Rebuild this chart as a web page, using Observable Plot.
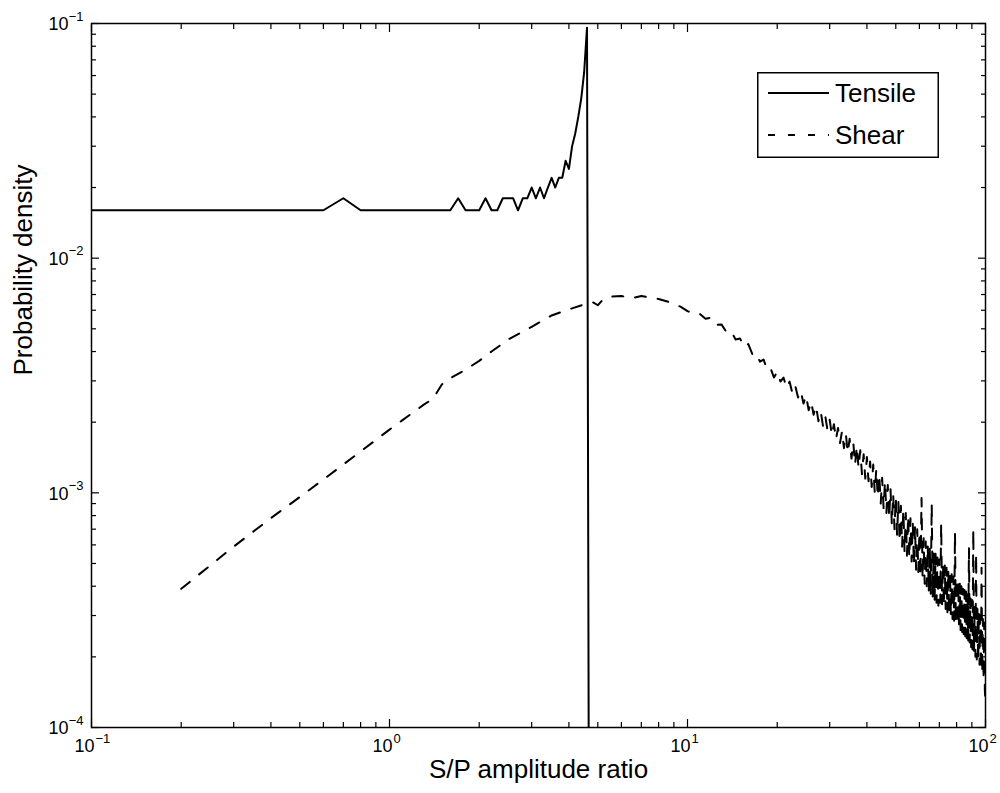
<!DOCTYPE html>
<html><head><meta charset="utf-8">
<script src="https://cdn.jsdelivr.net/npm/d3@7"></script>
<script src="https://cdn.jsdelivr.net/npm/@observablehq/plot@0.6"></script>
<style>
body{margin:0;background:#fff;font-family:"Liberation Sans",Arial,sans-serif;}
#wrap{position:relative;width:1000px;height:793px;}
#legend{position:absolute;left:757px;top:72px;}
</style></head><body><div id="wrap"></div>
<script>
// Tensile series
const tensileX = [0.1,0.2,0.3,0.4,0.5,0.6,0.7,0.8,0.9,1.0,1.1,1.2,1.3,1.4,1.5,1.6,1.7,1.8,1.9,2.0,2.1,2.2,2.3,2.4,2.5,2.6,2.7,2.8,2.9,3.0,3.1,3.2,3.3,3.4,3.5,3.6,3.7,3.8,3.9,4.0,4.1,4.2,4.3,4.4,4.5,4.6,4.7];
const tensileY = [0.016,0.016,0.016,0.016,0.016,0.016,0.018,0.016,0.016,0.016,0.016,0.016,0.016,0.016,0.016,0.016,0.018,0.016,0.016,0.016,0.018,0.016,0.016,0.018,0.018,0.018,0.016,0.018,0.018,0.020,0.018,0.020,0.018,0.020,0.022,0.020,0.022,0.022,0.026,0.024,0.030,0.034,0.040,0.048,0.062,0.096,0.000001];

// Shear series
const shearX = [0.2,0.3,0.4,0.5,0.6,0.7,0.8,0.9,1.0,1.1,1.2,1.3,1.4,1.5,1.6,1.8,2.0,2.2,2.5,3.0,3.5,4.0,4.5,4.8,5.0,5.2,5.5,6.0,6.5,7.0,7.5,8.0,8.5,9.0,9.5,
10,10.5,11,11.5,12,12.5,13,13.5,14,14.5,15,15.5,16,16.5,17,17.5,18,18.5,19,19.5,
20,20.5,21,21.5,22,22.5,23,23.5,24,24.5,25,25.5,26,26.5,27,27.5,28,28.5,29,29.5,
30,30.5,31,31.5,32,32.5,33,33.5,34,34.5,35,35.5,36,36.5,37,37.5,38,38.5,39,39.5,
40,40.5,41,41.5,42,42.5,43,43.5,44,44.5,45,45.5,46,46.5,47,47.5,48,48.5,49,49.5,
50,50.5,51,51.5,52,52.5,53,53.5,54,54.5,55,55.5,56,56.5,57,57.5,58,58.5,59,59.5,
60,60.5,61,61.5,62,62.5,63,63.5,64,64.5,65,65.5,66,66.5,67,67.5,68,68.5,69,69.5,
70,70.5,71,71.5,72,72.5,73,73.5,74,74.5,75,75.5,76,76.5,77,77.5,78,78.5,79,79.5,
80,80.5,81,81.5,82,82.5,83,83.5,84,84.5,85,85.5,86,86.5,87,87.5,88,88.5,89,89.5,
90,90.5,91,91.5,92,92.5,93,93.5,94,94.5,95,95.5,96,96.5,97,97.5,98,98.5,99,99.5,100];
const shearY = [3.9e-4,5.9e-4,7.8e-4,9.6e-4,1.14e-3,1.32e-3,1.5e-3,1.68e-3,1.86e-3,2.03e-3,2.2e-3,2.37e-3,2.52e-3,2.9e-3,3.08e-3,3.35e-3,3.65e-3,4.0e-3,4.5e-3,5.1e-3,5.7e-3,6.05e-3,6.35e-3,6.5e-3,6.3e-3,6.65e-3,6.85e-3,6.9e-3,6.75e-3,6.9e-3,6.8e-3,6.7e-3,6.55e-3,6.4e-3,6.2e-3,
5.95e-3,5.78e-3,5.79e-3,5.52e-3,5.58e-3,5.2e-3,5.22e-3,4.85e-3,4.9e-3,4.5e-3,4.55e-3,4.18e-3,4.3e-3,3.9e-3,3.95e-3,3.62e-3,3.7e-3,3.35e-3,3.4e-3,3.1e-3,
3.28e-3,2.98e-3,3.1e-3,2.8e-3,2.98e-3,2.65e-3,2.85e-3,2.55e-3,2.72e-3,2.4e-3,2.6e-3,2.25e-3,2.45e-3,2.15e-3,2.35e-3,2.02e-3,2.22e-3,1.92e-3,2.12e-3,1.85e-3,
2.05e-3,1.76e-3,1.96e-3,1.69e-3,1.89e-3,1.63e-3,1.83e-3,1.55e-3,1.78e-3,1.48e-3,1.70e-3,1.40e-3,1.64e-3,1.32e-3,1.58e-3,1.28e-3,1.52e-3,1.20e-3,1.46e-3,1.15e-3,
1.42e-3,1.12e-3,1.36e-3,1.06e-3,1.32e-3,1.00e-3,1.26e-3,9.6e-4,1.20e-3,9.0e-4,1.16e-3,8.6e-4,1.12e-3,8.2e-4,1.08e-3,7.8e-4,1.04e-3,7.3e-4,9.9e-4,7.0e-4,
9.6e-4,6.6e-4,9.2e-4,6.2e-4,8.8e-4,5.9e-4,8.5e-4,5.6e-4,8.2e-4,5.4e-4,8.0e-4,5.3e-4,7.8e-4,5.1e-4,7.5e-4,4.9e-4,7.2e-4,4.7e-4,7.0e-4,4.6e-4,
6.8e-4,4.4e-4,9.5e-4,4.3e-4,6.4e-4,4.1e-4,6.2e-4,4.0e-4,6.0e-4,3.8e-4,5.9e-4,3.7e-4,9.0e-4,3.6e-4,5.6e-4,3.5e-4,5.5e-4,3.4e-4,5.3e-4,3.3e-4,
5.2e-4,3.4e-4,7.4e-4,3.35e-4,5.0e-4,3.3e-4,4.9e-4,3.2e-4,4.8e-4,3.1e-4,4.7e-4,3.05e-4,4.6e-4,3.0e-4,4.5e-4,2.9e-4,4.4e-4,2.85e-4,6.8e-4,2.8e-4,
4.3e-4,2.75e-4,4.2e-4,2.7e-4,4.1e-4,2.6e-4,4.0e-4,2.55e-4,3.9e-4,2.5e-4,3.85e-4,2.45e-4,3.8e-4,2.4e-4,3.7e-4,2.35e-4,5.8e-4,2.3e-4,3.55e-4,2.2e-4,
3.5e-4,2.15e-4,7.0e-4,2.1e-4,3.3e-4,2.0e-4,5.5e-4,1.95e-4,3.2e-4,1.9e-4,3.1e-4,1.85e-4,3.0e-4,1.75e-4,4.8e-4,1.7e-4,2.9e-4,1.6e-4,2.8e-4,1.45e-4,1.25e-4];

// Axis ticks and labels
const xMajor = [0.1, 1, 10, 100];
const xExp = ["\u22121", "0", "1", "2"];
const yMajor = [0.0001, 0.001, 0.01, 0.1];
const yExp = ["\u22124", "\u22123", "\u22122", "\u22121"];
const xMinor = [0.2,0.3,0.4,0.5,0.6,0.7,0.8,0.9,2,3,4,5,6,7,8,9,20,30,40,50,60,70,80,90];
const yMinor = [0.0002,0.0003,0.0004,0.0005,0.0006,0.0007,0.0008,0.0009,0.002,0.003,0.004,0.005,0.006,0.007,0.008,0.009,0.02,0.03,0.04,0.05,0.06,0.07,0.08,0.09];
const xTitle = "S/P amplitude ratio";
const yTitle = "Probability density";
const seriesNames = ["Tensile", "Shear"];

const tensile = tensileX.map((x, i) => ({x, y: tensileY[i]}));
const shear = shearX.map((x, i) => ({x, y: shearY[i]}));
const xLab = xMajor.map((v, i) => ({v, e: xExp[i]}));
const yLab = yMajor.map((v, i) => ({v, e: yExp[i]}));

const FONT = "Liberation Sans, Arial, Helvetica, sans-serif";
const tickAxis = (fn, anchor, ticks, size) => fn({anchor, ticks, tickSize: -size, tickFormat: () => "", label: null, stroke: "black", strokeWidth: 1.2});

const plot = Plot.plot({
  width: 1000, height: 793,
  marginLeft: 91, marginRight: 15, marginTop: 23, marginBottom: 66,
  x: {type: "log", domain: [0.1, 100]},
  y: {type: "log", domain: [0.0001, 0.1]},
  style: {fontFamily: FONT, background: "white", color: "black"},
  marks: [
    Plot.line(tensile, {x: "x", y: "y", stroke: "black", strokeWidth: 2, clip: true}),
    Plot.line(shear, {x: "x", y: "y", stroke: "black", strokeWidth: 2, strokeDasharray: "11,12", clip: true}),
    Plot.frame({stroke: "black", strokeWidth: 1.5}),
    tickAxis(Plot.axisX, "bottom", xMajor, 8),
    tickAxis(Plot.axisX, "top", xMajor, 8),
    tickAxis(Plot.axisX, "bottom", xMinor, 5),
    tickAxis(Plot.axisX, "top", xMinor, 5),
    tickAxis(Plot.axisY, "left", yMajor, 8),
    tickAxis(Plot.axisY, "right", yMajor, 8),
    tickAxis(Plot.axisY, "left", yMinor, 5),
    tickAxis(Plot.axisY, "right", yMinor, 5),
    Plot.text(xLab, {x: "v", text: () => "10", frameAnchor: "bottom", textAnchor: "end", dx: 3, dy: 24, fontSize: 18, fill: "black"}),
    Plot.text(xLab, {x: "v", text: "e", frameAnchor: "bottom", textAnchor: "start", dx: 4, dy: 15, fontSize: 13, fill: "black"}),
    Plot.text(yLab, {y: "v", text: () => "10", frameAnchor: "left", textAnchor: "end", dx: -23, dy: 1, fontSize: 18, fill: "black"}),
    Plot.text(yLab, {y: "v", text: "e", frameAnchor: "left", textAnchor: "end", dx: -8, dy: -7, fontSize: 13, fill: "black"}),
    Plot.text([xTitle], {text: d => d, frameAnchor: "bottom", dy: 50, fontSize: 26, fill: "black"}),
    Plot.text([yTitle], {text: d => d, frameAnchor: "left", rotate: -90, dx: -68, fontSize: 26, fill: "black"})
  ]
});
const wrap = document.getElementById("wrap");
wrap.appendChild(plot);

// Legend box inside the axes
const lg = d3.select(wrap).append("svg").attr("id", "legend").attr("width", 182).attr("height", 86);
lg.append("rect").attr("x", 0.75).attr("y", 0.75).attr("width", 180.5).attr("height", 84.5).attr("fill", "white").attr("stroke", "black").attr("stroke-width", 1.5);
const dashes = [null, "7,13"];
seriesNames.forEach((name, i) => {
  const cy = 21 + i * 42;
  lg.append("line").attr("x1", 11).attr("x2", 72).attr("y1", cy).attr("y2", cy).attr("stroke", "black").attr("stroke-width", 2).attr("stroke-dasharray", dashes[i]);
  lg.append("text").attr("x", 78).attr("y", cy).attr("dy", "0.35em").attr("font-size", 26).attr("font-family", FONT).attr("fill", "black").text(name);
});
</script></body></html>
